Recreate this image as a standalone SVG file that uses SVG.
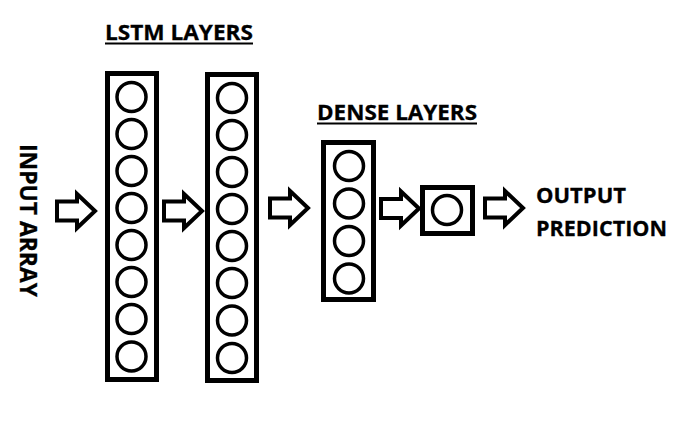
<svg xmlns="http://www.w3.org/2000/svg" width="681" height="422" viewBox="0 0 681 422">
<style>
.box{fill:none;stroke:#000;stroke-width:5}
.n{fill:none;stroke:#000;stroke-width:3.5}
.arr{fill:#fff;stroke:#000;stroke-width:4;stroke-linejoin:miter;stroke-miterlimit:3}
.t{font-family:"Open Sans","Noto Sans","Liberation Sans",sans-serif;font-weight:bold;font-size:22px;fill:#000;stroke:#000;stroke-width:0.3}
.ul{stroke:#000;stroke-width:2}
</style>
<defs>
<path id="ar" class="arr" d="M0,-9.5 H20 V-17 L38,0 L20,17 V9.5 H0 Z"/>
<circle id="c" class="n" r="14.5"/>
</defs>
<rect width="681" height="422" fill="#fff"/>
<g id="labels">
<text class="t" x="105" y="40" textLength="148" lengthAdjust="spacingAndGlyphs">LSTM LAYERS</text>
<line class="ul" x1="105" y1="43.5" x2="253" y2="43.5"/>
<text class="t" x="317" y="120" textLength="160" lengthAdjust="spacingAndGlyphs">DENSE LAYERS</text>
<line class="ul" x1="317" y1="123.5" x2="477" y2="123.5"/>
<text class="t" x="536" y="202.5" textLength="90" lengthAdjust="spacingAndGlyphs">OUTPUT</text>
<text class="t" x="536" y="236" textLength="131" lengthAdjust="spacingAndGlyphs">PREDICTION</text>
<text class="t" transform="translate(20,144) rotate(90)" x="0" y="0" style="font-size:23px" textLength="153" lengthAdjust="spacingAndGlyphs">INPUT ARRAY</text>
</g>
<g id="lstm1">
<rect class="box" x="107.5" y="73.5" width="49" height="306"/>
<use href="#c" x="131.5" y="97"/>
<use href="#c" x="131.5" y="134"/>
<use href="#c" x="131.5" y="171"/>
<use href="#c" x="131.5" y="208"/>
<use href="#c" x="131.5" y="245"/>
<use href="#c" x="131.5" y="282"/>
<use href="#c" x="131.5" y="319"/>
<use href="#c" x="131.5" y="356.5"/>
</g>
<g id="lstm2">
<rect class="box" x="207.5" y="74.5" width="49" height="306"/>
<use href="#c" x="232" y="98"/>
<use href="#c" x="232" y="135"/>
<use href="#c" x="232" y="172"/>
<use href="#c" x="232" y="209"/>
<use href="#c" x="232" y="246"/>
<use href="#c" x="232" y="283"/>
<use href="#c" x="232" y="320.5"/>
<use href="#c" x="232" y="358"/>
</g>
<g id="dense">
<rect class="box" x="323.5" y="142.5" width="50" height="157"/>
<use href="#c" x="349" y="166"/>
<use href="#c" x="349" y="203.5"/>
<use href="#c" x="349" y="241"/>
<use href="#c" x="349" y="278.5"/>
</g>
<g id="output">
<rect class="box" x="422.5" y="187.5" width="50" height="46"/>
<use href="#c" x="447" y="210"/>
</g>
<g id="connectors">
<use href="#ar" x="57" y="211"/>
<use href="#ar" x="164" y="211"/>
<use href="#ar" x="270" y="208"/>
<use href="#ar" x="381" y="208.5"/>
<use href="#ar" x="485" y="208"/>
</g>
</svg>
